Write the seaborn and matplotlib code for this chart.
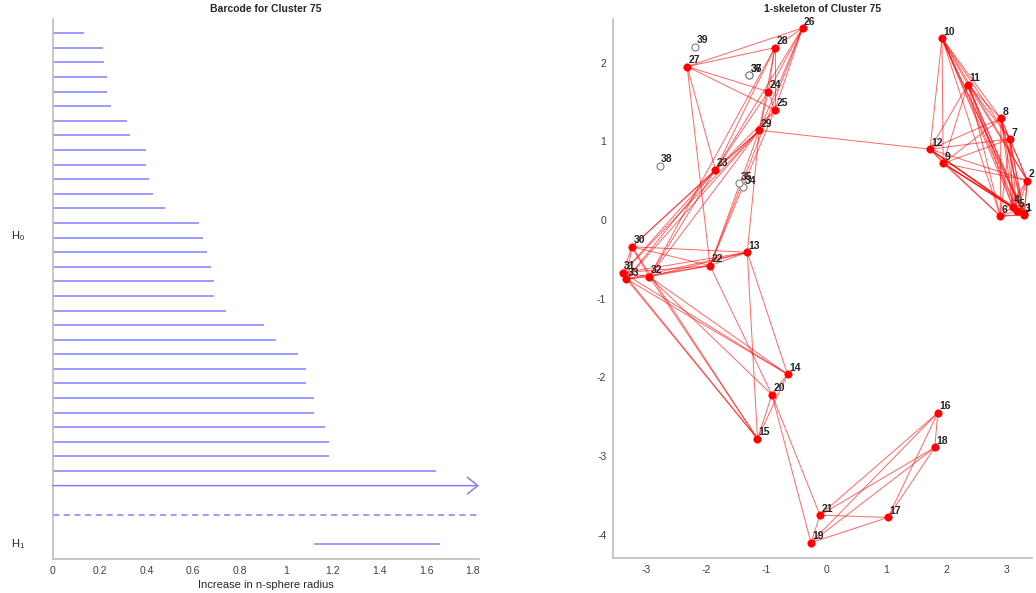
import numpy as np
import pandas as pd
import matplotlib
matplotlib.use("Agg")
import matplotlib.pyplot as plt
import seaborn as sns

# ---------------- data ----------------
h0_death = [0.134, 0.216, 0.217, 0.233, 0.233, 0.249, 0.316, 0.331, 0.397, 0.397,
            0.413, 0.430, 0.479, 0.626, 0.642, 0.659, 0.676, 0.692, 0.692, 0.740,
            0.904, 0.954, 1.050, 1.084, 1.084, 1.117, 1.117, 1.166, 1.182, 1.182,
            1.640, np.inf]
h1_birth = [1.117]
h1_death = [1.657]

point_ids = list(range(1, 40))
point_x = [3.30, 3.35, 3.29, 3.11, 3.18, 2.90, 3.06, 2.91, 1.95, 1.93,
           2.36, 1.73, -1.31, -0.64, -1.14, 1.86, 1.03, 1.81, -0.25, -0.90,
           -0.10, -1.93, -1.84, -0.96, -0.85, -0.39, -2.31, -0.85, -1.11, -3.23,
           -3.38, -2.94, -3.32, -1.38, -1.44, -1.28, -1.28, -2.77, -2.18]
point_y = [0.07, 0.50, 0.06, 0.17, 0.12, 0.05, 1.03, 1.29, 0.72, 2.31,
           1.72, 0.90, -0.41, -1.96, -2.78, -2.45, -3.78, -2.89, -4.10, -2.22,
           -3.75, -0.58, 0.64, 1.63, 1.40, 2.44, 1.95, 2.19, 1.14, -0.34,
           -0.67, -0.72, -0.75, 0.42, 0.47, 1.84, 1.84, 0.69, 2.20]
in_complex = [True] * 33 + [False] * 6

edges_right = [(a, b) for a in range(1, 13) for b in range(a + 1, 13)]
edges_other = [
    (29, 12),
    (26, 27), (26, 28), (26, 24), (26, 25), (26, 29), (26, 23), (26, 22),
    (28, 27), (28, 24), (28, 25), (28, 23), (28, 29), (28, 32),
    (27, 24), (27, 25), (27, 23), (27, 22),
    (24, 25), (24, 23), (24, 29), (25, 29), (25, 23), (25, 22), (29, 23),
    (23, 30), (23, 31), (23, 33), (23, 32),
    (29, 30), (29, 31), (29, 33), (29, 32), (29, 22), (29, 13),
    (30, 13), (30, 22), (30, 31), (30, 33), (30, 32), (30, 15),
    (31, 33), (31, 32), (31, 22), (31, 13), (33, 32), (33, 22), (33, 13),
    (32, 22), (32, 13), (22, 13), (22, 20), (13, 14), (13, 15),
    (31, 14), (33, 14), (32, 14), (33, 15), (31, 15), (32, 20), (32, 15),
    (14, 20), (14, 15), (20, 15), (20, 21), (20, 19),
    (16, 18), (16, 21), (16, 19), (16, 17), (18, 21), (18, 19), (18, 17),
    (21, 17), (21, 19), (19, 17),
]
edges = edges_right + edges_other

# ---------------- style ----------------
sns.set_style("white")
plt.rcParams['font.family'] = ['Liberation Sans', 'DejaVu Sans']
plt.rcParams['axes.unicode_minus'] = False
axis_gray = "#bdbdbd"
tick_text = "#404040"
bar_color = "#8080ff"

fig = plt.figure(figsize=(10.36, 5.93), dpi=100)

# ---------------- barcode ----------------
ax1 = fig.add_axes([53 / 1036, 1 - 558.6 / 593, 426 / 1036, 539.9 / 593])
xmax = 1.826
finite = [d for d in h0_death if np.isfinite(d)]
ys = np.arange(1, len(h0_death) + 1)
ax1.hlines(ys[:len(finite)], 0, finite, color=bar_color, lw=1.1)
for y, d in zip(ys, h0_death):
    if not np.isfinite(d):
        ax1.annotate('', xy=(xmax, y), xytext=(0, y),
                     arrowprops=dict(arrowstyle='->,head_length=0.75,head_width=0.6',
                                     color=bar_color, lw=1.1, shrinkA=0, shrinkB=0))
dash_y = len(h0_death) + 2
ax1.hlines([dash_y], 0, xmax, color=bar_color, lw=1.1, linestyles=(0, (4, 3)))
h1_y = np.arange(dash_y + 2, dash_y + 2 + len(h1_birth))
ax1.hlines(h1_y, h1_birth, h1_death, color=bar_color, lw=1.1)
ax1.set_xlim(0, xmax)
ax1.set_ylim(h1_y[-1] + 1, 0)
ax1.set_yticks([])
ax1.set_xticks(np.arange(0, 1.81, 0.2))
ax1.set_xticklabels(['0', '0.2', '0.4', '0.6', '0.8', '1', '1.2', '1.4', '1.6', '1.8'])
ax1.tick_params(axis='x', direction='in', length=4, width=0.8, colors=axis_gray,
                labelcolor=tick_text, labelsize=7.5, pad=5)
for s in ['top', 'right']:
    ax1.spines[s].set_visible(False)
for s in ['left', 'bottom']:
    ax1.spines[s].set_color(axis_gray)
    ax1.spines[s].set_linewidth(1.2)
ax1.set_xlabel('Increase in n-sphere radius', fontsize=8, color='#262626', labelpad=3)
ax1.set_title('Barcode for Cluster 75', fontsize=7.5, fontweight='bold', pad=5)
ax1.text(-0.099, 14.9, r'$\mathregular{H_0}$', transform=ax1.get_yaxis_transform(),
         fontsize=8, va='center', ha='left', color='#262626')
ax1.text(-0.099, h1_y[0], r'$\mathregular{H_1}$', transform=ax1.get_yaxis_transform(),
         fontsize=8, va='center', ha='left', color='#262626')

# ---------------- 1-skeleton ----------------
ax2 = fig.add_axes([613.3 / 1036, 1 - 558.3 / 593, (1032 - 613.3) / 1036, 539.6 / 593])
pts = pd.DataFrame({'id': point_ids, 'x': point_x, 'y': point_y, 'in': in_complex})
pos = {r.id: (r.x, r.y) for r in pts.itertuples()}
for a, b in edges:
    ax2.plot([pos[a][0], pos[b][0]], [pos[a][1], pos[b][1]], color='#ff0000',
             lw=0.7, alpha=0.6, zorder=1)
sns.scatterplot(data=pts[pts['in']], x='x', y='y', color='#ff0000', s=28,
                edgecolor='#ff0000', linewidth=0.5, ax=ax2, zorder=3)
sns.scatterplot(data=pts[~pts['in']], x='x', y='y', facecolor='white', s=26,
                edgecolor='#707070', linewidth=0.7, ax=ax2, zorder=3)
for r in pts.itertuples():
    ax2.annotate(str(r.id), (r.x, r.y), xytext=(1, 1), textcoords='offset points',
                 fontsize=7.5, fontweight='bold', ha='left', va='bottom', zorder=4)
ax2.set_xlim((613.3 - 826) / 60.1, (1032 - 826) / 60.1)
ax2.set_ylim((220 - 558.3) / 78.7, (220 - 18.7) / 78.7)
ax2.set_xticks(np.arange(-3, 4))
ax2.set_yticks(np.arange(-4, 3))
ax2.set_xlabel('')
ax2.set_ylabel('')
ax2.tick_params(direction='in', length=4, width=0.8, colors=axis_gray,
                labelcolor=tick_text, labelsize=7.5, pad=5)
for s in ['top', 'right']:
    ax2.spines[s].set_visible(False)
for s in ['left', 'bottom']:
    ax2.spines[s].set_color(axis_gray)
    ax2.spines[s].set_linewidth(1.2)
ax2.set_title('1-skeleton of Cluster 75', fontsize=7.5, fontweight='bold', pad=5)

fig.savefig('out.png', dpi=100)
